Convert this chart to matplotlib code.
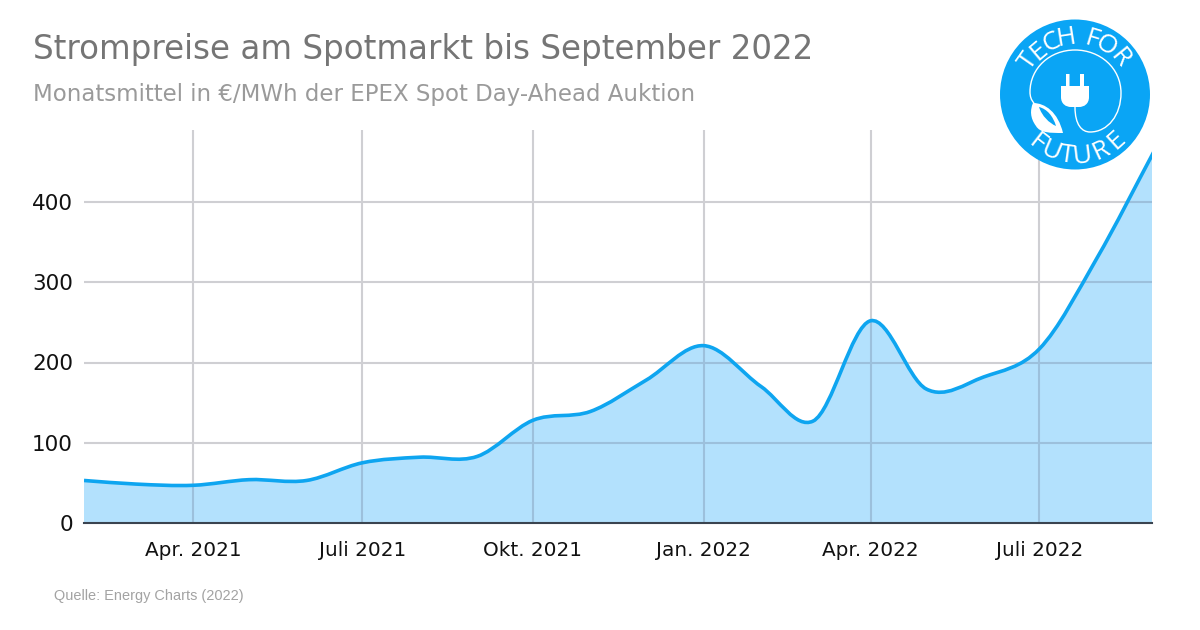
import numpy as np
import matplotlib
matplotlib.use('Agg')
import matplotlib.pyplot as plt
import matplotlib.dates as mdates
from matplotlib.path import Path
from matplotlib.patches import PathPatch, Circle
from datetime import date

# monthly means
months = [date(2021, 2, 1), date(2021, 3, 1), date(2021, 4, 1), date(2021, 5, 1), date(2021, 6, 1),
          date(2021, 7, 1), date(2021, 8, 1), date(2021, 9, 1), date(2021, 10, 1), date(2021, 11, 1),
          date(2021, 12, 1), date(2022, 1, 1), date(2022, 2, 1), date(2022, 3, 1), date(2022, 4, 1),
          date(2022, 5, 1), date(2022, 6, 1), date(2022, 7, 1), date(2022, 8, 1), date(2022, 9, 1)]
prices = [53, 48.5, 47, 54, 53, 75, 82, 83, 128, 139, 178, 221, 170, 127, 252, 167, 182, 217, 330, 464]

tick_dates = [date(2021, 4, 1), date(2021, 7, 1), date(2021, 10, 1), date(2022, 1, 1), date(2022, 4, 1), date(2022, 7, 1)]
tick_labels = ['Apr. 2021', 'Juli 2021', 'Okt. 2021', 'Jan. 2022', 'Apr. 2022', 'Juli 2022']
y_ticks = [0, 100, 200, 300, 400]

LINE = '#0ea5f0'
FILL = '#b3e1fd'
GRID = '#cfcfd3'
GRID_ON_FILL = '#9cc0dc'
LOGO = '#0aa5f5'

W, H = 1200, 630
fig = plt.figure(figsize=(12, 6.3), dpi=100, facecolor='white')
ax = fig.add_axes([84 / W, 1 - 523 / H, (1152 - 84) / W, (523 - 130) / H])

x = mdates.date2num(months)
y = np.array(prices, dtype=float)


# smooth curve through the monthly values as bezier segments
def curve_verts(x, y):
    slope = np.gradient(y, x)
    verts = [(x[0], y[0])]
    for i in range(len(x) - 1):
        d = (x[i + 1] - x[i]) / 3
        verts.append((x[i] + d, y[i] + slope[i] * d))
        verts.append((x[i + 1] - d, y[i + 1] - slope[i + 1] * d))
        verts.append((x[i + 1], y[i + 1]))
    return verts


verts = curve_verts(x, y)
codes = [Path.MOVETO] + [Path.CURVE4] * (len(verts) - 1)

area_verts = verts + [(x[-1], 0), (x[0], 0), (x[0], y[0])]
area_codes = codes + [Path.LINETO, Path.LINETO, Path.CLOSEPOLY]
area = PathPatch(Path(area_verts, area_codes), facecolor=FILL, edgecolor='none', zorder=1)
ax.add_patch(area)
ax.add_patch(PathPatch(Path(verts, codes), facecolor='none', edgecolor=LINE, lw=2.6, zorder=4))

# grid looks darker where the area covers it
for d in mdates.date2num(tick_dates):
    ln = ax.axvline(d, color=GRID_ON_FILL, lw=1.5, zorder=2)
    ln.set_clip_path(area)
for v in y_ticks[1:]:
    ln = ax.axhline(v, color=GRID_ON_FILL, lw=1.5, zorder=2)
    ln.set_clip_path(area)

ax.set_xlim(x[0], x[-1] - 1.3)
ax.set_ylim(0, (523 - 130) / 0.8025)
ax.set_xticks(mdates.date2num(tick_dates))
ax.set_xticklabels(tick_labels)
ax.set_yticks(y_ticks)
ax.grid(True, color=GRID, lw=1.5)
ax.set_axisbelow(True)
ax.tick_params(length=0, labelsize=14.4, labelcolor='#111111')
ax.tick_params(axis='x', pad=13)
ax.tick_params(axis='y', labelsize=15.5, pad=8)
for side in ['top', 'right', 'left']:
    ax.spines[side].set_visible(False)
ax.spines['bottom'].set_color('#3a4450')
ax.spines['bottom'].set_linewidth(1.5)
ax.spines['bottom'].set_zorder(5)

fig.text(33 / W, 1 - 50 / H, 'Strompreise am Spotmarkt bis September 2022', fontsize=23.45,
         color='#757575', va='center', ha='left')
fig.text(33 / W, 1 - 94 / H, 'Monatsmittel in €/MWh der EPEX Spot Day-Ahead Auktion', fontsize=16.5,
         color='#9a9a9a', va='center', ha='left')
fig.text(54 / W, 1 - 596 / H, 'Quelle: Energy Charts (2022)', fontsize=10.45, color='#a3a3a3',
         family='Liberation Sans', va='center', ha='left')

# logo, drawn in pixel coordinates
lg = fig.add_axes([0, 0, 1, 1], zorder=10)
lg.set_xlim(0, W)
lg.set_ylim(H, 0)
lg.axis('off')
lg.patch.set_alpha(0)
cx, cy, r = 1075, 94.5, 75
lg.add_patch(Circle((cx, cy), r, facecolor=LOGO, edgecolor='none'))


def arc_text(word, angles, radius, flip=False):
    for ch, a in zip(word, angles):
        t = np.radians(a)
        px = cx + radius * np.sin(t)
        py = cy - radius * np.cos(t)
        rot = 180 - a if flip else -a
        lg.text(px, py, ch, color='white', fontsize=19, family='Open Sans',
                rotation=rot, rotation_mode='anchor', ha='center', va='center_baseline')


arc_text('TECH', [-55, -40, -24, -9], 60)
arc_text('FOR', [17, 32, 51], 60)
arc_text('FUTURE', [218, 203, 188, 173, 155, 138], 59, flip=True)

# cable
cable_v = [(1075, 107), (1075, 125), (1082, 132), (1090, 132), (1108, 132), (1121, 115), (1121, 93),
           (1121, 68), (1100, 50), (1075, 50), (1050, 50), (1030, 68), (1030, 92),
           (1030, 96), (1031, 100), (1034, 103)]
cable_c = [Path.MOVETO] + [Path.CURVE4] * 15
lg.add_patch(PathPatch(Path(cable_v, cable_c), facecolor='none', edgecolor='white', lw=1.0))

# plug
plug_v = [(1061, 86), (1066, 86), (1066, 74), (1069.5, 74), (1069.5, 86), (1080, 86), (1080, 74), (1084, 74),
          (1084, 86), (1089, 86), (1089, 97), (1089, 104), (1084, 107), (1079, 107), (1071, 107),
          (1066, 107), (1061, 104), (1061, 97), (1061, 86)]
plug_c = [Path.MOVETO] + [Path.LINETO] * 10 + [Path.CURVE4] * 3 + [Path.LINETO] + [Path.CURVE4] * 3 + [Path.CLOSEPOLY]
lg.add_patch(PathPatch(Path(plug_v, plug_c), facecolor='white', edgecolor='none'))

# leaf
leaf_v = [(1033, 103), (1045, 103), (1058, 112), (1063, 133), (1050, 133), (1040, 133), (1036, 126),
          (1030, 118), (1030, 110), (1033, 103)]
leaf_c = [Path.MOVETO] + [Path.CURVE4] * 9
lg.add_patch(PathPatch(Path(leaf_v, leaf_c), facecolor='white', edgecolor='none'))
vein_v = [(1039, 107), (1047, 109), (1053, 116), (1056, 126), (1049, 123), (1042, 116), (1039, 107)]
vein_c = [Path.MOVETO] + [Path.CURVE4] * 6
lg.add_patch(PathPatch(Path(vein_v, vein_c), facecolor=LOGO, edgecolor='none'))

fig.savefig('out.png', dpi=100)
